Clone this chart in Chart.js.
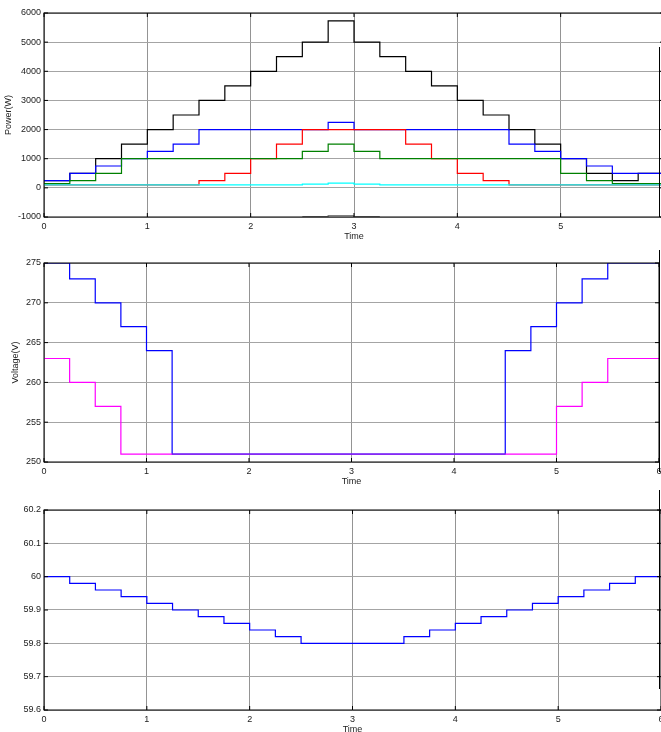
<!DOCTYPE html>
<html>
<head>
<meta charset="utf-8">
<script src="https://cdn.jsdelivr.net/npm/chart.js@4.4.1/dist/chart.umd.min.js"></script>
<style>
    body { margin: 0; background: #ffffff; overflow: hidden; }
    #page { position: relative; width: 661px; height: 732px; overflow: hidden; }
    .plot { position: absolute; left: 0; }
    .edge { position: absolute; width: 1px; background: #000000; }
</style>
</head>
<body>
<div id="page">
    <div class="plot" style="top:0px;"><canvas id="powerChart" width="680" height="245"></canvas></div>
    <div class="plot" style="top:245px;"><canvas id="voltageChart" width="680" height="245"></canvas></div>
    <div class="plot" style="top:490px;"><canvas id="freqChart" width="680" height="250"></canvas></div>
    <!-- cropped figure edges on the right -->
    <div class="edge" style="left:659px; top:47px; height:170px;"></div>
    <div class="edge" style="left:659px; top:250px; height:222px;"></div>
    <div class="edge" style="left:659px; top:490px; height:199px;"></div>
</div>

<script>
// ===============================
// DATA
// ===============================
const timeSteps = [0, 0.25, 0.5, 0.75, 1, 1.25, 1.5, 1.75, 2, 2.25, 2.5, 2.75, 3,
                   3.25, 3.5, 3.75, 4, 4.25, 4.5, 4.75, 5, 5.25, 5.5, 5.75, 6];

// power (W), each value held until the next time step
const powerBlack = [250, 500, 1000, 1500, 2000, 2500, 3000, 3500, 4000, 4500, 5000, 5730, 5000,
                    4500, 4000, 3500, 3000, 2500, 2000, 1500, 1000, 500, 250, 500, 500];
const powerBlue  = [250, 500, 750, 1000, 1250, 1500, 2000, 2000, 2000, 2000, 2000, 2250, 2000,
                    2000, 2000, 2000, 2000, 2000, 1500, 1250, 1000, 750, 500, 500, 500];
const powerRed   = [100, 100, 100, 100, 100, 100, 250, 500, 1000, 1500, 2000, 2000, 2000,
                    2000, 1500, 1000, 500, 250, 100, 100, 100, 100, 100, 100, 100];
const powerGreen = [150, 250, 500, 1000, 1000, 1000, 1000, 1000, 1000, 1000, 1250, 1500, 1250,
                    1000, 1000, 1000, 1000, 1000, 1000, 1000, 500, 250, 150, 150, 150];
const powerCyan  = [100, 100, 100, 100, 100, 100, 100, 100, 100, 100, 125, 160, 125,
                    100, 100, 100, 100, 100, 100, 100, 100, 100, 100, 100, 100];
const powerGray  = [null, null, null, null, null, null, null, null, null, null, -985, -950, -985,
                    -985, null, null, null, null, null, null, null, null, null, null, null];

// voltage (V)
const voltBlue    = [275, 273, 270, 267, 264, 251, 251, 251, 251, 251, 251, 251, 251,
                     251, 251, 251, 251, 251, 264, 267, 270, 273, 275, 275, 275];
const voltMagenta = [263, 260, 257, 251, 251, 251, 251, 251, 251, 251, 251, 251, 251,
                     251, 251, 251, 251, 251, 251, 251, 257, 260, 263, 263, 263];

// frequency (Hz)
const freqBlue = [60.00, 59.98, 59.96, 59.94, 59.92, 59.90, 59.88, 59.86, 59.84, 59.82, 59.80, 59.80, 59.80,
                  59.80, 59.82, 59.84, 59.86, 59.88, 59.90, 59.92, 59.94, 59.96, 59.98, 60.00, 60.00];

const timeTicks = [0, 1, 2, 3, 4, 5, 6];

// ===============================
// HELPERS
// ===============================
const FONT = "'Liberation Sans', Arial, sans-serif";

function toPoints(values) {
    return timeSteps.map((t, i) => ({ x: t, y: values[i] }));
}

function stepLine(values, color, extra) {
    return Object.assign({
        data: toPoints(values),
        borderColor: color,
        borderWidth: 1.2,
        pointRadius: 0,
        stepped: true,
        fill: false,
        spanGaps: false
    }, extra || {});
}

// black frame + small inward ticks, like the matlab axes
const frameTicks = {
    id: "frameTicks",
    afterDraw(chart) {
        const { ctx, chartArea: a, scales } = chart;
        ctx.save();
        ctx.strokeStyle = "#000000";
        ctx.lineWidth = 1;
        ctx.strokeRect(a.left, a.top, a.right - a.left, a.bottom - a.top);

        scales.x.ticks.forEach(t => {
            const px = scales.x.getPixelForValue(t.value);
            ctx.beginPath();
            ctx.moveTo(px, a.bottom); ctx.lineTo(px, a.bottom - 4);
            ctx.moveTo(px, a.top); ctx.lineTo(px, a.top + 4);
            ctx.stroke();
        });
        scales.y.ticks.forEach(t => {
            const py = scales.y.getPixelForValue(t.value);
            ctx.beginPath();
            ctx.moveTo(a.left, py); ctx.lineTo(a.left + 4, py);
            ctx.moveTo(a.right, py); ctx.lineTo(a.right - 4, py);
            ctx.stroke();
        });
        ctx.restore();
    }
};

function buildOptions(cfg) {
    return {
        responsive: false,
        animation: false,
        devicePixelRatio: 1,
        layout: { padding: { left: 0, top: cfg.top, right: cfg.right, bottom: 0 } },
        plugins: { legend: { display: false }, tooltip: { enabled: false } },
        scales: {
            x: {
                type: "linear",
                min: 0,
                max: 6,
                afterBuildTicks: scale => { scale.ticks = timeTicks.map(v => ({ value: v })); },
                afterFit: scale => { scale.height = cfg.xHeight; },
                grid: { color: "#949494", lineWidth: 1, drawTicks: false },
                border: { display: false },
                ticks: { padding: 4, color: "#222", font: { family: FONT, size: 9 } },
                title: {
                    display: true, text: "Time", color: "#222",
                    font: { family: FONT, size: 9 },
                    padding: { top: 0, bottom: cfg.titleBottom }
                }
            },
            y: {
                min: cfg.yMin,
                max: cfg.yMax,
                afterFit: scale => { scale.width = 44; },
                grid: { color: "#a4a4a4", lineWidth: 1, drawTicks: false },
                border: { display: false },
                ticks: {
                    stepSize: cfg.yStep,
                    padding: 3,
                    color: "#222",
                    font: { family: FONT, size: 9 },
                    callback: cfg.yFormat || (v => v)
                },
                title: {
                    display: !!cfg.yTitle, text: cfg.yTitle || "", color: "#222",
                    font: { family: FONT, size: 9 },
                    padding: { top: cfg.yTitlePad || 0, bottom: 0 }
                }
            }
        }
    };
}

// ===============================
// POWER
// ===============================
function renderPowerChart() {
    new Chart(document.getElementById("powerChart"), {
        type: "line",
        data: {
            datasets: [
                stepLine(powerCyan, "#00ffff"),
                stepLine(powerGreen, "#008000"),
                stepLine(powerRed, "#ff0000"),
                stepLine(powerBlue, "#0000ff"),
                stepLine(powerGray, "#808080"),
                stepLine(powerBlack, "#000000")
            ]
        },
        options: buildOptions({
            top: 13, right: 16, xHeight: 28, titleBottom: 3,
            yMin: -1000, yMax: 6000, yStep: 1000,
            yTitle: "Power(W)", yTitlePad: 3
        }),
        plugins: [frameTicks]
    });
}

// ===============================
// VOLTAGE
// ===============================
function renderVoltageChart() {
    new Chart(document.getElementById("voltageChart"), {
        type: "line",
        data: {
            datasets: [
                stepLine(voltMagenta, "#ff00ff", {
                    segment: {
                        borderColor: c => voltMagenta[c.p0DataIndex] === voltBlue[c.p0DataIndex] ? "#a020f0" : undefined
                    }
                }),
                stepLine(voltBlue, "#0000ff")
            ]
        },
        options: buildOptions({
            top: 18, right: 21, xHeight: 28, titleBottom: 3,
            yMin: 250, yMax: 275, yStep: 5,
            yTitle: "Voltage(V)", yTitlePad: 10
        }),
        plugins: [frameTicks]
    });
}

// ===============================
// FREQUENCY
// ===============================
function renderFreqChart() {
    new Chart(document.getElementById("freqChart"), {
        type: "line",
        data: {
            datasets: [stepLine(freqBlue, "#0000ff")]
        },
        options: buildOptions({
            top: 20, right: 19, xHeight: 30, titleBottom: 5,
            yMin: 59.6, yMax: 60.2, yStep: 0.1,
            yFormat: v => String(+v.toFixed(1))
        }),
        plugins: [frameTicks]
    });
}

document.addEventListener("DOMContentLoaded", () => {
    renderPowerChart();
    renderVoltageChart();
    renderFreqChart();
});
</script>
</body>
</html>
